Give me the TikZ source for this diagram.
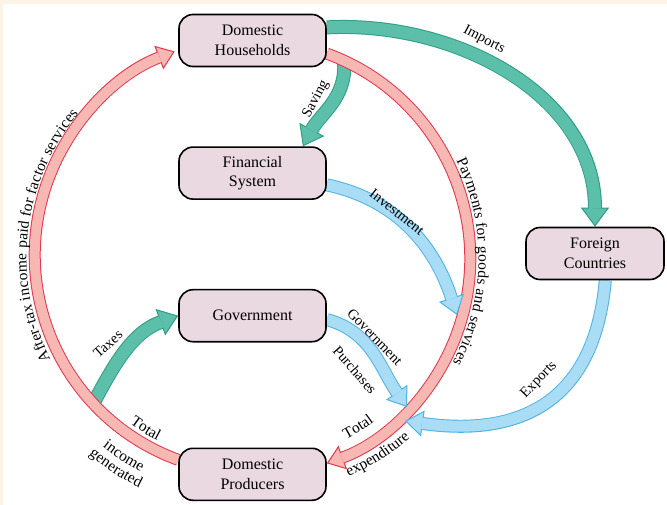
\documentclass[tikz,border=0pt]{standalone}
\usepackage{fontspec}
\setmainfont{Liberation Serif}
\usepackage{tikz}
\usetikzlibrary{arrows.meta,positioning,backgrounds,calc,decorations.text}
\definecolor{cfbox}{HTML}{EAD9E1}
\definecolor{cfred}{HTML}{F7B8B3}
\definecolor{cfredl}{HTML}{E8354B}
\definecolor{cfgreen}{HTML}{5BBFA9}
\definecolor{cfgreenl}{HTML}{2E9E86}
\definecolor{cfblue}{HTML}{A9DDF5}
\definecolor{cfbluel}{HTML}{4FB2E4}
\definecolor{cfcream}{HTML}{FDF4E5}
\newcommand{\boxfont}{\fontsize{16}{19.5}\selectfont}
\newcommand{\flowfont}{\fontsize{14.5}{16}\selectfont}
\newcommand{\arcfont}{\fontsize{15.5}{17}\selectfont}
\tikzset{
  box/.style={draw=black,line width=1.6pt,fill=cfbox,rounded corners=14pt,align=center,
              minimum width=147pt,minimum height=52pt,inner sep=2pt,font=\boxfont},
  rflow/.style={draw=cfredl,line width=12pt,
              -{Triangle[length=17pt,width=25pt,line width=1pt,fill=cfred]},
              postaction={draw=cfred,line width=10pt,-,shorten >=16pt}},
  gflow/.style={draw=cfgreenl,line width=14pt,
              -{Triangle[length=19pt,width=28pt,line width=1pt,fill=cfgreen]},
              postaction={draw=cfgreen,line width=12pt,-,shorten >=18pt}},
  bflow/.style={draw=cfbluel,line width=13pt,
              -{Triangle[length=18pt,width=26pt,line width=1pt,fill=cfblue]},
              postaction={draw=cfblue,line width=11pt,-,shorten >=17pt}},
  lab/.style={font=\flowfont,inner sep=1pt},
  arclab/.style 2 args={decorate,decoration={text along path,text align=center,
              raise=#2,text={|\arcfont|#1}}},
}
\begin{document}
\begin{tikzpicture}[x=1pt,y=1pt]
  \useasboundingbox (0,0) rectangle (667,-505);
  \node[box] (hh) at (252.5,-40.5) {Domestic\\Households};
  \node[box,below=79pt of hh] (fs) {Financial\\System};
  \node[box,below=89pt of fs] (gov) {Government};
  \node[box,below=105pt of gov] (dp) {Domestic\\Producers};
  \node[box,minimum width=138pt] (fc) at (595,-253.5) {Foreign\\Countries};
  \coordinate (o) at (252.5,-258);
  \coordinate (sv) at (344,-61);
  \coordinate (tx) at (93,-404);
  \coordinate (ie) at (457,-315);
  \coordinate (ge) at (407,-407);
  \coordinate (xe) at (405,-421);
  \begin{scope}[on background layer]
    \fill[cfcream] (0,0) rectangle (667,-505);
    \fill[white] (3,-4) rectangle (667,-505);
    % flows that leave the circle
    \draw[gflow] (sv) to[out=-85,in=62] (fs.28);
    \draw[gflow] (tx) to[out=62,in=200] (gov.west);
    % circular flow
    \draw[rflow] (dp.169) arc[start angle=250,end angle=111,radius=218];
    \draw[rflow] (hh.350) arc[start angle=70,end angle=-70,radius=218];
    \draw[gflow] (hh.10) to[out=3,in=90] (fc.north);
    \draw[bflow] (fs.351) to[out=-12,in=108] (ie);
    \draw[bflow] (gov.357) to[out=-15,in=125] (ge);
    \draw[bflow] (fc.291) to[out=-95,in=-8,looseness=1.25] (xe);
  \end{scope}
  % text on the circle
  \path[arclab={After-tax income paid for factor services}{8pt}]
    ($(o)+(240:218)$) arc[start angle=240,end angle=107,radius=218];
  \path[arclab={Payments for goods and services}{8pt}]
    ($(o)+(60:218)$) arc[start angle=60,end angle=-62,radius=218];
  \path[arclab={Total}{0pt}] ($(o)+(228:206)$) arc[start angle=228,end angle=248,radius=206];
  \path[arclab={income}{0pt}] ($(o)+(226:241)$) arc[start angle=226,end angle=248,radius=241];
  \path[arclab={generated}{0pt}] ($(o)+(224:256)$) arc[start angle=224,end angle=250,radius=256];
  \path[arclab={Total}{0pt}] ($(o)+(-68:204)$) arc[start angle=-68,end angle=-48,radius=204];
  \path[arclab={expenditure}{0pt}] ($(o)+(-71:239)$) arc[start angle=-71,end angle=-44,radius=239];
  % flow labels
  \node[lab,rotate=-28] (limp) at (484,-40) {Imports};
  \node[lab,rotate=62] (lsav) at (316,-99) {Saving};
  \node[lab,rotate=-38] (linv) at (397,-212) {Investment};
  \node[lab,rotate=-46] (lgov) at (375,-337) {Government};
  \node[lab,rotate=-49] (lpur) at (355,-370) {Purchases};
  \node[lab,rotate=46] (lexp) at (539,-380) {Exports};
  \node[lab,rotate=42] (ltax) at (108,-344) {Taxes};
\end{tikzpicture}
\end{document}
